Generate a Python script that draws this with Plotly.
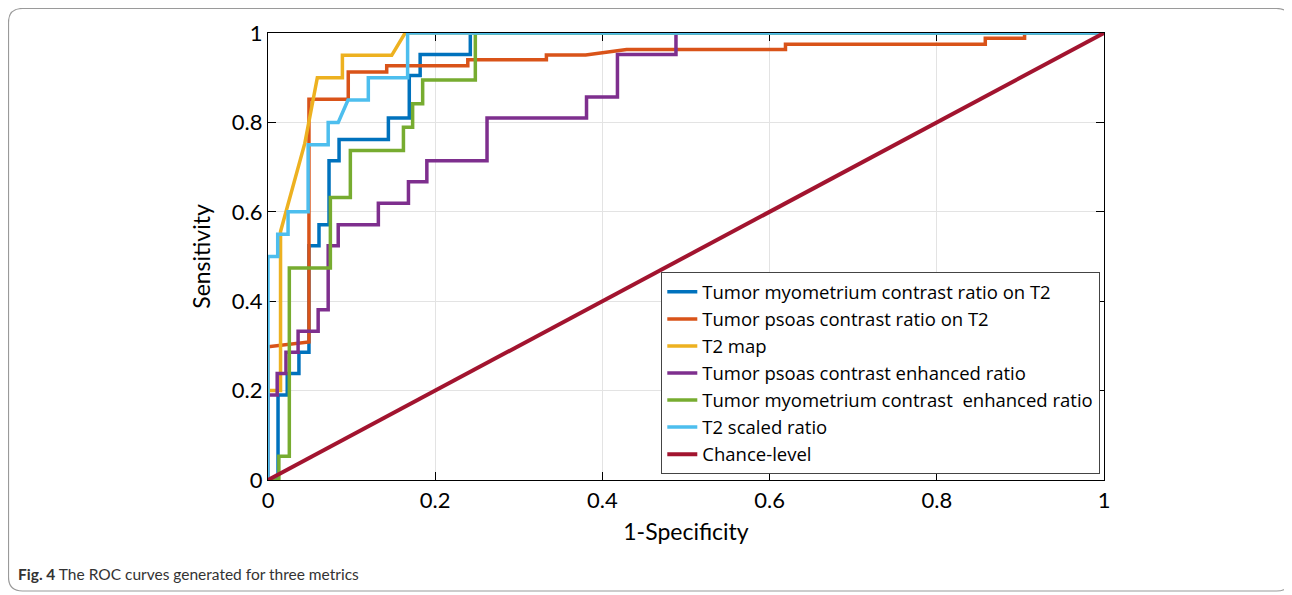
import plotly.graph_objects as go

# ---- data ----
names = [
    "Tumor myometrium contrast ratio on T2",
    "Tumor psoas contrast ratio on T2",
    "T2 map",
    "Tumor psoas contrast enhanced ratio",
    "Tumor myometrium contrast  enhanced ratio",
    "T2 scaled ratio",
    "Chance-level",
]
colors = ["#0072BD", "#D95319", "#EDB120", "#7E2F8E", "#77AC30", "#4DBEEE", "#A2142F"]

myo_t2_x = [0, 0.012, 0.012, 0.023, 0.023, 0.037, 0.037, 0.049, 0.049, 0.061, 0.061, 0.073, 0.073,
            0.085, 0.085, 0.144, 0.144, 0.169, 0.169, 0.182, 0.182, 0.242, 0.242, 1]
myo_t2_y = [0, 0, 0.19, 0.19, 0.238, 0.238, 0.286, 0.286, 0.524, 0.524, 0.571, 0.571, 0.714,
            0.714, 0.762, 0.762, 0.81, 0.81, 0.905, 0.905, 0.952, 0.952, 1, 1]

psoas_t2_x = [0, 0, 0.049, 0.049, 0.096, 0.096, 0.142, 0.142, 0.239, 0.239, 0.333, 0.333, 0.38,
              0.429, 0.619, 0.619, 0.858, 0.858, 0.905, 0.905, 1]
psoas_t2_y = [0, 0.298, 0.309, 0.852, 0.852, 0.913, 0.913, 0.927, 0.927, 0.94, 0.94, 0.951, 0.951,
              0.963, 0.963, 0.975, 0.975, 0.988, 0.988, 1, 1]

t2map_x = [0, 0, 0.015, 0.015, 0.044, 0.059, 0.089, 0.089, 0.148, 0.164, 1]
t2map_y = [0, 0.2, 0.2, 0.556, 0.753, 0.9, 0.9, 0.95, 0.95, 1, 1]

psoas_ce_x = [0, 0, 0.011, 0.011, 0.0215, 0.0215, 0.036, 0.036, 0.06, 0.06, 0.072, 0.072, 0.084,
              0.084, 0.132, 0.132, 0.168, 0.168, 0.19, 0.19, 0.262, 0.262, 0.381, 0.381, 0.418,
              0.418, 0.488, 0.488, 1]
psoas_ce_y = [0, 0.19, 0.19, 0.238, 0.238, 0.286, 0.286, 0.333, 0.333, 0.381, 0.381, 0.524, 0.524,
              0.571, 0.571, 0.619, 0.619, 0.667, 0.667, 0.714, 0.714, 0.81, 0.81, 0.857, 0.857,
              0.952, 0.952, 1, 1]

myo_ce_x = [0, 0.013, 0.013, 0.0255, 0.0255, 0.0746, 0.0746, 0.0985, 0.0985, 0.162, 0.162, 0.173,
            0.173, 0.185, 0.185, 0.248, 0.248, 1]
myo_ce_y = [0, 0, 0.053, 0.053, 0.474, 0.474, 0.632, 0.632, 0.737, 0.737, 0.789, 0.789, 0.842,
            0.842, 0.895, 0.895, 1, 1]

t2scaled_x = [0, 0, 0.0116, 0.0116, 0.024, 0.024, 0.048, 0.048, 0.072, 0.072, 0.084, 0.0957,
              0.12, 0.12, 0.167, 0.167, 1]
t2scaled_y = [0, 0.5, 0.5, 0.55, 0.55, 0.6, 0.6, 0.75, 0.75, 0.8, 0.8, 0.85, 0.85, 0.9, 0.9, 1, 1]

chance_x = [0, 1]
chance_y = [0, 1]

tick_vals = [0, 0.2, 0.4, 0.6, 0.8, 1]
tick_text = ["0", "0.2", "0.4", "0.6", "0.8", "1"]

series = [
    (myo_t2_x, myo_t2_y),
    (psoas_t2_x, psoas_t2_y),
    (t2map_x, t2map_y),
    (psoas_ce_x, psoas_ce_y),
    (myo_ce_x, myo_ce_y),
    (t2scaled_x, t2scaled_y),
    (chance_x, chance_y),
]

FONT = "Lato"

fig = go.Figure()
for i, ((xs, ys), name, col) in enumerate(zip(series, names, colors)):
    fig.add_trace(go.Scatter(
        x=xs, y=ys, mode="lines", name=name,
        line=dict(color=col, width=3.5 if i < 6 else 4),
    ))

# the page body adds an 8 px offset; work in reference pixels and shift
OFF = 8
W, H = 1292 - OFF, 595 - OFF
L, R, T, B = 268 - OFF, 1104 - OFF, 33 - OFF, 480 - OFF

def px2paper_x(px):
    return (px - OFF - L) / (R - L)

def px2paper_y(py):
    return (B - (py - OFF)) / (B - T)

axis_common = dict(
    range=[0, 1], tickvals=tick_vals, ticktext=tick_text,
    showline=True, linecolor="black", linewidth=1.3, mirror="ticks",
    ticks="inside", ticklen=8, tickcolor="black", tickwidth=1.3,
    showgrid=True, gridcolor="#e3e3e3", gridwidth=1,
    zeroline=False, layer="below traces",
    tickfont=dict(family=FONT, size=22, color="black"),
)

fig.update_layout(
    width=W, height=H,
    margin=dict(l=L, r=W - R, t=T, b=H - B),
    paper_bgcolor="white", plot_bgcolor="white",
    font=dict(family=FONT, color="black"),
    xaxis=dict(**axis_common, title=dict(text="1-Specificity", font=dict(family=FONT, size=23), standoff=12)),
    yaxis=dict(**axis_common, title=dict(text="Sensitivity", font=dict(family=FONT, size=23), standoff=14)),
    showlegend=True,
    legend=dict(
        x=px2paper_x(1100), y=px2paper_y(474), xanchor="right", yanchor="bottom",
        bgcolor="white", bordercolor="#444444", borderwidth=1.3,
        font=dict(family="Open Sans", size=18.5, color="black"),
        tracegroupgap=0,
    ),
)

# rounded outer frame
x0, x1 = px2paper_x(8.5), px2paper_x(1290.5)
y0, y1 = px2paper_y(591), px2paper_y(8.5)
rx, ry = 14 / (R - L), 14 / (B - T)
path = (f"M {x0+rx} {y1} L {x1-rx} {y1} Q {x1} {y1} {x1} {y1-ry} L {x1} {y0+ry} "
        f"Q {x1} {y0} {x1-rx} {y0} L {x0+rx} {y0} Q {x0} {y0} {x0} {y0+ry} "
        f"L {x0} {y1-ry} Q {x0} {y1} {x0+rx} {y1} Z")
fig.add_shape(type="path", path=path, xref="paper", yref="paper",
              line=dict(color="#9a9a9a", width=1.2), layer="below")

fig.add_annotation(
    x=px2paper_x(16), y=px2paper_y(574), xref="paper", yref="paper",
    xanchor="left", yanchor="middle", showarrow=False,
    text="<b>Fig. 4</b> The ROC curves generated for three metrics",
    font=dict(family="Lato", size=15.5, color="#333333"),
)

fig.write_html("out.html")
